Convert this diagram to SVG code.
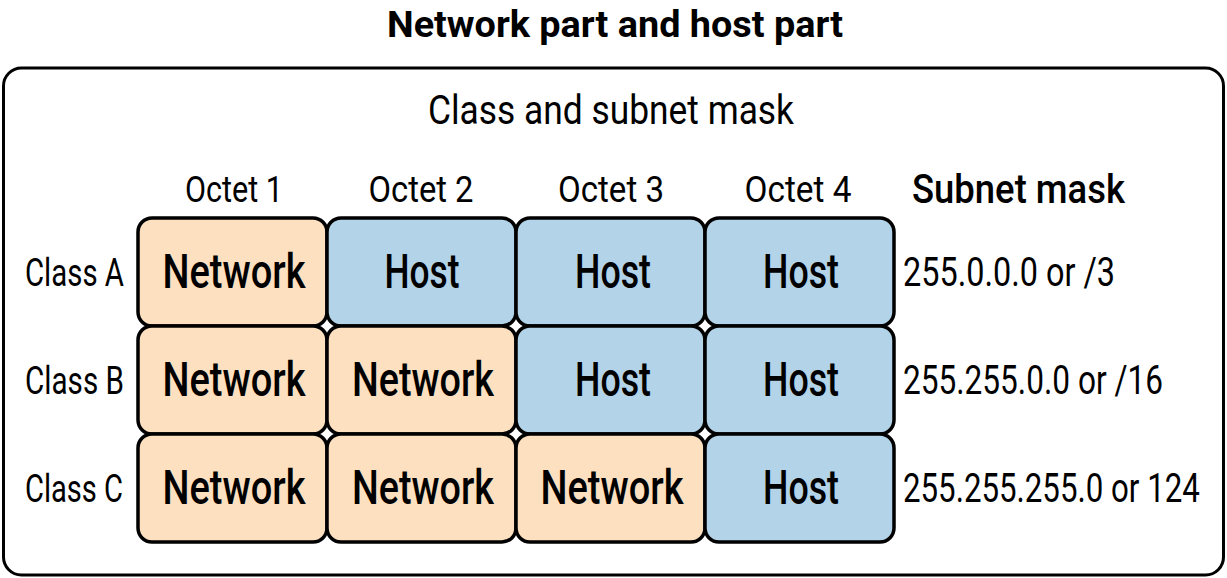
<svg xmlns="http://www.w3.org/2000/svg" width="1227" height="578" viewBox="0 0 1227 578">
<style>
text{font-family:Roboto,"Liberation Sans",sans-serif;fill:#000}
.t{font-size:37px;font-weight:700;text-anchor:middle}
.h{font-size:40px;text-anchor:middle}
.o{font-size:37px;text-anchor:middle}
.c{font-size:39px}
.s{font-size:40px}
.sm{font-size:41px;font-weight:500}
.n{font-size:48px;font-weight:500;text-anchor:middle}
.net{fill:#FDE0C0;stroke:#000;stroke-width:3.5}
.host{fill:#B3D3E8;stroke:#000;stroke-width:3.5}
</style>
<rect x="3.5" y="68" width="1220" height="507" rx="18" fill="#fff" stroke="#000" stroke-width="3"/>
<text class="t" x="615" y="37" textLength="456" lengthAdjust="spacingAndGlyphs">Network part and host part</text>
<text class="h" x="611" y="124" textLength="366" lengthAdjust="spacingAndGlyphs">Class and subnet mask</text>
<g id="headers">
<text class="o" x="234" y="202" textLength="98" lengthAdjust="spacingAndGlyphs">Octet 1</text>
<text class="o" x="421" y="202" textLength="105" lengthAdjust="spacingAndGlyphs">Octet 2</text>
<text class="o" x="611" y="202" textLength="106" lengthAdjust="spacingAndGlyphs">Octet 3</text>
<text class="o" x="798" y="202" textLength="107" lengthAdjust="spacingAndGlyphs">Octet 4</text>
<text class="sm" x="912" y="203" textLength="213" lengthAdjust="spacingAndGlyphs">Subnet mask</text>
</g>
<g id="classA">
<text class="c" x="25" y="286" textLength="99" lengthAdjust="spacingAndGlyphs">Class A</text>
<rect class="net" x="138" y="218" width="189" height="108" rx="14"/>
<rect class="host" x="327" y="218" width="189" height="108" rx="14"/>
<rect class="host" x="516" y="218" width="189" height="108" rx="14"/>
<rect class="host" x="705" y="218" width="189" height="108" rx="14"/>
<text class="n" x="234" y="288" textLength="143" lengthAdjust="spacingAndGlyphs">Network</text>
<text class="n" x="422" y="288" textLength="75" lengthAdjust="spacingAndGlyphs">Host</text>
<text class="n" x="613" y="288" textLength="76" lengthAdjust="spacingAndGlyphs">Host</text>
<text class="n" x="801" y="288" textLength="76" lengthAdjust="spacingAndGlyphs">Host</text>
<text class="s" transform="translate(903,286) scale(0.8,1)" textLength="265" lengthAdjust="spacingAndGlyphs">255.0.0.0 or /3</text>
</g>
<g id="classB">
<text class="c" x="25" y="394" textLength="99" lengthAdjust="spacingAndGlyphs">Class B</text>
<rect class="net" x="138" y="326" width="189" height="108" rx="14"/>
<rect class="net" x="327" y="326" width="189" height="108" rx="14"/>
<rect class="host" x="516" y="326" width="189" height="108" rx="14"/>
<rect class="host" x="705" y="326" width="189" height="108" rx="14"/>
<text class="n" x="234" y="396" textLength="143" lengthAdjust="spacingAndGlyphs">Network</text>
<text class="n" x="423" y="396" textLength="142" lengthAdjust="spacingAndGlyphs">Network</text>
<text class="n" x="613" y="396" textLength="76" lengthAdjust="spacingAndGlyphs">Host</text>
<text class="n" x="801" y="396" textLength="76" lengthAdjust="spacingAndGlyphs">Host</text>
<text class="s" transform="translate(903,394) scale(0.8,1)" textLength="325" lengthAdjust="spacingAndGlyphs">255.255.0.0 or /16</text>
</g>
<g id="classC">
<text class="c" x="25" y="502" textLength="98" lengthAdjust="spacingAndGlyphs">Class C</text>
<rect class="net" x="138" y="434" width="189" height="108" rx="14"/>
<rect class="net" x="327" y="434" width="189" height="108" rx="14"/>
<rect class="net" x="516" y="434" width="189" height="108" rx="14"/>
<rect class="host" x="705" y="434" width="189" height="108" rx="14"/>
<text class="n" x="234" y="504" textLength="143" lengthAdjust="spacingAndGlyphs">Network</text>
<text class="n" x="423" y="504" textLength="142" lengthAdjust="spacingAndGlyphs">Network</text>
<text class="n" x="612" y="504" textLength="143" lengthAdjust="spacingAndGlyphs">Network</text>
<text class="n" x="801" y="504" textLength="76" lengthAdjust="spacingAndGlyphs">Host</text>
<text class="s" transform="translate(903,502) scale(0.8,1)" textLength="371" lengthAdjust="spacingAndGlyphs">255.255.255.0 or 124</text>
</g>
<g id="connectors"/>
</svg>
